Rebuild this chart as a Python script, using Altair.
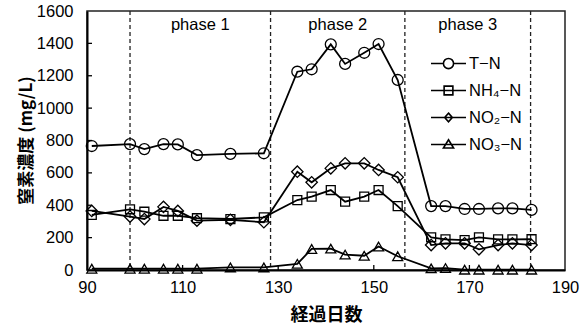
import altair as alt
import pandas as pd

# Sampling days (elapsed days)
days = [91, 99, 102, 106, 109, 113, 120, 127, 134, 137, 141, 144, 148, 151, 155,
        162, 165, 169, 172, 176, 179, 183]

# Nitrogen concentrations (mg/L)
tn = [766, 778, 747, 778, 776, 710, 717, 721, 1225, 1240, 1394, 1273, 1342, 1396, 1174,
      395, 395, 377, 377, 381, 381, 371]
nh4 = [340, 375, 360, 335, 335, 320, 315, 325, 432, 453, 494, 422, 453, 494, 395,
       202, 189, 185, 202, 189, 189, 190]
no2 = [365, 330, 315, 390, 365, 305, 310, 295, 607, 542, 628, 659, 659, 618, 573,
       154, 165, 165, 128, 154, 165, 154]
no3 = [8, 8, 8, 8, 8, 8, 16, 16, 38, 130, 132, 95, 88, 145, 85,
       10, 12, 2, 2, 2, 2, 2]

series_names = ["T−N", "NH₄−N", "NO₂−N", "NO₃−N"]
marker_shapes = ["circle", "square", "diamond", "triangle-up"]
marker_sizes = [120, 80, 130, 100]

# Legend glyphs: a line segment with the series marker on it
legend_paths = [
    "M-1,0H-0.29M0.29,0H1M-0.29,0A0.29,0.29 0 1 1 0.29,0A0.29,0.29 0 1 1 -0.29,0",
    "M-1,0H1M-0.25,-0.25H0.25V0.25H-0.25Z",
    "M-1,0H1M0,-0.25L0.22,0L0,0.25L-0.22,0Z",
    "M-1,0H1M0,-0.27L0.29,0.2H-0.29Z",
]

phase_bounds = [99, 128.4, 156.5, 182.8]
phase_labels = ["phase 1", "phase 2", "phase 3"]

y_values = list(range(0, 1601, 200))
x_values = [90, 110, 130, 150, 170, 190]

rows = []
for name, vals, sz in zip(series_names, [tn, nh4, no2, no3], marker_sizes):
    for d, v in zip(days, vals):
        rows.append({"day": d, "conc": v, "series": name, "msize": sz})
df = pd.DataFrame(rows)

phase_df = pd.DataFrame({"day": phase_bounds})
label_df = pd.DataFrame({
    "day": [(a + b) / 2 for a, b in zip(phase_bounds[:-1], phase_bounds[1:])],
    "label": phase_labels,
})
ytick_df = pd.DataFrame({"conc": y_values[1:-1]})
xtick_df = pd.DataFrame({"day": x_values[1:-1]})

W, H = 478, 259
x_scale = alt.Scale(domain=[90, 190], nice=False, zero=False)
y_scale = alt.Scale(domain=[0, 1600], nice=False)
NUM_FONT = "Liberation Sans"
JP_FONT = "Noto Sans CJK JP"

x_axis = alt.Axis(values=x_values, format="d", ticks=False, grid=False, labelPadding=9,
                  labelFlush=False, labelOverlap=False,
                  labelFont=NUM_FONT, labelFontSize=16.5, labelColor="black",
                  domainColor="black", domainWidth=2,
                  title="経過日数", titleFont=JP_FONT, titleFontSize=18,
                  titleFontWeight="bold", titleColor="black",
                  titleX=W / 2, titleY=45, titleBaseline="middle", titleAlign="center")
y_axis = alt.Axis(values=y_values, format="d", ticks=False, grid=False, labelPadding=14,
                  labelFlush=False, labelOverlap=False,
                  labelFont=NUM_FONT, labelFontSize=16.5, labelColor="black",
                  domainColor="black", domainWidth=2,
                  title="窒素濃度 (mg/L)", titleFont=JP_FONT, titleFontSize=17,
                  titleFontWeight="bold", titleColor="black",
                  titleX=-61, titleY=129, titleBaseline="middle", titleAlign="center")

X = alt.X("day:Q", scale=x_scale, axis=x_axis)
Y = alt.Y("conc:Q", scale=y_scale, axis=y_axis)

base = alt.Chart(df)

lines = base.mark_line(color="black", strokeWidth=1.8).encode(
    x=X, y=Y, detail="series:N",
)

points = base.mark_point(filled=False, color="black", strokeWidth=1.3, opacity=1).encode(
    x=X, y=Y,
    shape=alt.Shape("series:N", scale=alt.Scale(domain=series_names, range=marker_shapes),
                    legend=None),
    size=alt.Size("msize:Q", scale=None, legend=None),
)

legend_layer = base.mark_point(filled=False, color="black", opacity=0).encode(
    x=X, y=Y,
    shape=alt.Shape(
        "series:N",
        scale=alt.Scale(domain=series_names, range=legend_paths),
        legend=alt.Legend(title=None, orient="none", legendX=343, legendY=34,
                          symbolSize=1225, symbolStrokeWidth=1.6, symbolOpacity=1,
                          symbolStrokeColor="black", symbolFillColor="transparent",
                          labelFont=NUM_FONT, labelFontSize=16.5, labelColor="black",
                          labelOffset=2, rowPadding=-9),
    ),
)

phase_rules = alt.Chart(phase_df).mark_rule(color="#222", strokeWidth=1.3,
                                            strokeDash=[4, 3]).encode(
    x=X, y=alt.value(0), y2=alt.value(H),
)

phase_text = alt.Chart(label_df).mark_text(font=NUM_FONT, fontSize=16.5, color="black",
                                           baseline="middle").encode(
    x=X, y=alt.value(14), text="label:N",
)

y_ticks = alt.Chart(ytick_df).mark_rule(color="black", strokeWidth=1.3).encode(
    y=Y, x=alt.value(0), x2=alt.value(5),
)

x_ticks = alt.Chart(xtick_df).mark_rule(color="black", strokeWidth=1.3).encode(
    x=X, y=alt.value(H), y2=alt.value(H - 5),
)

chart = alt.layer(
    phase_rules, y_ticks, x_ticks, lines, points, legend_layer, phase_text
).resolve_scale(
    shape="independent"
).properties(
    width=W, height=H,
    autosize=alt.AutoSizeParams(type="none"),
    padding={"left": 87, "top": 11, "right": 15, "bottom": 63},
).configure_view(
    stroke="#222", strokeWidth=1.5
)

chart.save("out.html", embed_options={"renderer": "svg", "actions": False})
